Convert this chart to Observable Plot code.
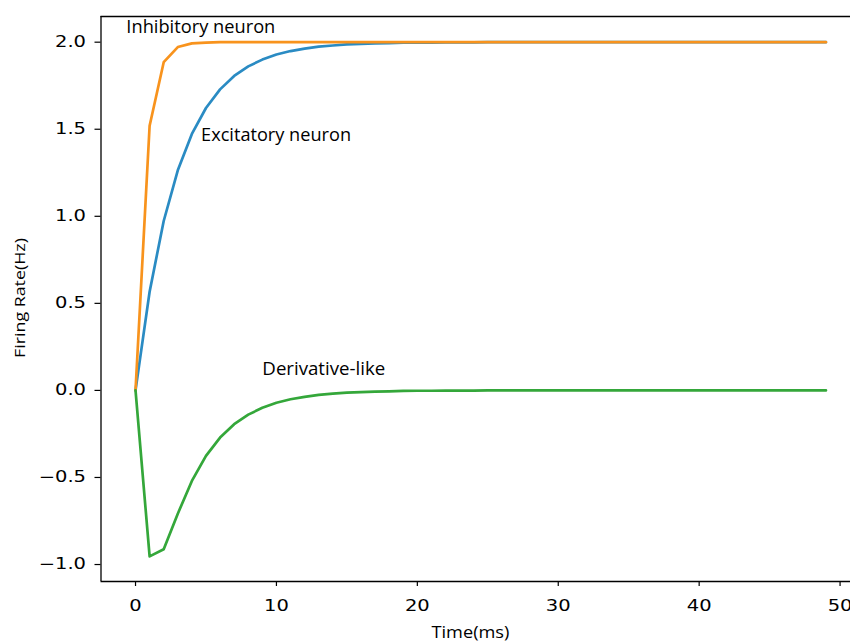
<!DOCTYPE html>
<html>
<head>
<meta charset="utf-8">
<script src="https://cdn.jsdelivr.net/npm/d3@7"></script>
<script src="https://cdn.jsdelivr.net/npm/@observablehq/plot@0.6"></script>
<style>
  html, body { margin: 0; padding: 0; background: #fff; overflow: hidden; }
  #chart { width: 850px; height: 643px; overflow: hidden; }
  #chart svg { max-width: none !important; }
</style>
</head>
<body>
<div id="chart"></div>
<script>
const time = d3.range(0, 50);
const inhibitory = [0, 1.52, 1.885, 1.972, 1.993, 1.998, 2.0, 2.0, 2.0, 2.0,
  2.0, 2.0, 2.0, 2.0, 2.0, 2.0, 2.0, 2.0, 2.0, 2.0,
  2.0, 2.0, 2.0, 2.0, 2.0, 2.0, 2.0, 2.0, 2.0, 2.0,
  2.0, 2.0, 2.0, 2.0, 2.0, 2.0, 2.0, 2.0, 2.0, 2.0,
  2.0, 2.0, 2.0, 2.0, 2.0, 2.0, 2.0, 2.0, 2.0, 2.0];
const excitatory = [0, 0.567, 0.973, 1.264, 1.473, 1.622, 1.729, 1.806, 1.861, 1.900,
  1.929, 1.949, 1.963, 1.974, 1.981, 1.987, 1.990, 1.993, 1.995, 1.997,
  1.998, 1.998, 1.999, 1.999, 1.999, 2.0, 2.0, 2.0, 2.0, 2.0,
  2.0, 2.0, 2.0, 2.0, 2.0, 2.0, 2.0, 2.0, 2.0, 2.0,
  2.0, 2.0, 2.0, 2.0, 2.0, 2.0, 2.0, 2.0, 2.0, 2.0];
const derivative = [0, -0.953, -0.912, -0.708, -0.520, -0.376, -0.271, -0.194, -0.139, -0.100,
  -0.071, -0.051, -0.037, -0.026, -0.019, -0.013, -0.010, -0.007, -0.005, -0.003,
  -0.002, -0.002, -0.001, -0.001, -0.001, 0, 0, 0, 0, 0,
  0, 0, 0, 0, 0, 0, 0, 0, 0, 0,
  0, 0, 0, 0, 0, 0, 0, 0, 0, 0];
const seriesNames = ["Excitatory neuron", "Inhibitory neuron", "Derivative-like"];
const seriesColors = ["#2a8bc3", "#f8931d", "#34a73a"];
const xTicks = [0, 10, 20, 30, 40, 50];
const yTicks = [-1.0, -0.5, 0.0, 0.5, 1.0, 1.5, 2.0];
const labelNames = ["Inhibitory neuron", "Excitatory neuron", "Derivative-like"];
const labelT = [-0.65, 4.65, 9.0];
const labelV = [2.085, 1.465, 0.12];
const xTitle = "Time(ms)";
const yTitle = "Firing Rate(Hz)";

// styling: rendered text widths matching the reference lettering
const textWidths = {
  "Inhibitory neuron": 149, "Excitatory neuron": 150, "Derivative-like": 123,
  "Time(ms)": 78, "Firing Rate(Hz)": 120
};

const xDomain = [-2.45, 51.45];
const yDomain = [-1.0975, 2.1475];

const rows = [];
[excitatory, inhibitory, derivative].forEach((arr, i) => {
  arr.forEach((v, j) => rows.push({series: seriesNames[i], t: time[j], v}));
});
const labels = labelNames.map((name, i) => ({name, t: labelT[i], v: labelV[i]}));

const fmt = d => d.toFixed(1).replace("-", "\u2212");

const chart = Plot.plot({
  width: 862,
  height: 643,
  marginLeft: 100.5,
  marginRight: 2,
  marginTop: 16,
  marginBottom: 62,
  style: {background: "#fff", fontFamily: "DejaVu Sans", color: "#000", maxWidth: "none"},
  x: {domain: xDomain},
  y: {domain: yDomain},
  color: {domain: seriesNames, range: seriesColors},
  marks: [
    Plot.line(rows, {x: "t", y: "v", stroke: "series", z: "series", strokeWidth: 2.7, curve: "linear"}),
    Plot.ruleX([xDomain[0]], {stroke: "#000", strokeWidth: 1.3}),
    Plot.ruleY([yDomain[0], yDomain[1]], {stroke: "#000", strokeWidth: 1.3}),
    Plot.axisX(xTicks, {tickSize: 5, tickPadding: 14, fontSize: 15, label: null, tickFormat: d => String(d), stroke: "#000", strokeWidth: 1.2}),
    Plot.axisY(yTicks, {tickSize: 6, tickPadding: 9, fontSize: 15, label: null, tickFormat: fmt, stroke: "#000", strokeWidth: 1.2}),
    Plot.text(labels, {x: "t", y: "v", text: "name", textAnchor: "start", fontSize: 17.5, fontWeight: 500, fontFamily: "Open Sans", fill: "#000"}),
    Plot.text([xTitle], {x: 21.0, frameAnchor: "bottom", dy: 56, textAnchor: "start", fontSize: 17, fontWeight: 500, fontFamily: "Open Sans", fill: "#000"}),
    Plot.text([yTitle], {frameAnchor: "left", dx: -81, dy: 59, rotate: -90, textAnchor: "start", fontSize: 14.5, fontWeight: 500, fontFamily: "Open Sans", fill: "#000"})
  ]
});
document.getElementById("chart").appendChild(chart);

// horizontal stretch of the reference picture's lettering
chart.querySelectorAll('g[aria-label="x-axis tick label"] text, g[aria-label="y-axis tick label"] text').forEach(el => {
  el.setAttribute("textLength", (el.getComputedTextLength() * 1.3).toFixed(2));
  el.setAttribute("lengthAdjust", "spacingAndGlyphs");
});
chart.querySelectorAll('text').forEach(el => {
  const w = textWidths[el.textContent.trim()];
  if (!w) return;
  const natural = el.getComputedTextLength();
  if (!natural) return;
  const k = w / natural;
  const ax = parseFloat(el.getAttribute("x")) || 0;
  const ay = parseFloat(el.getAttribute("y")) || 0;
  const t = el.getAttribute("transform") || "";
  el.setAttribute("transform", `${t} translate(${ax},${ay}) scale(${k.toFixed(4)},1) translate(${-ax},${-ay})`);
});
</script>
</body>
</html>
